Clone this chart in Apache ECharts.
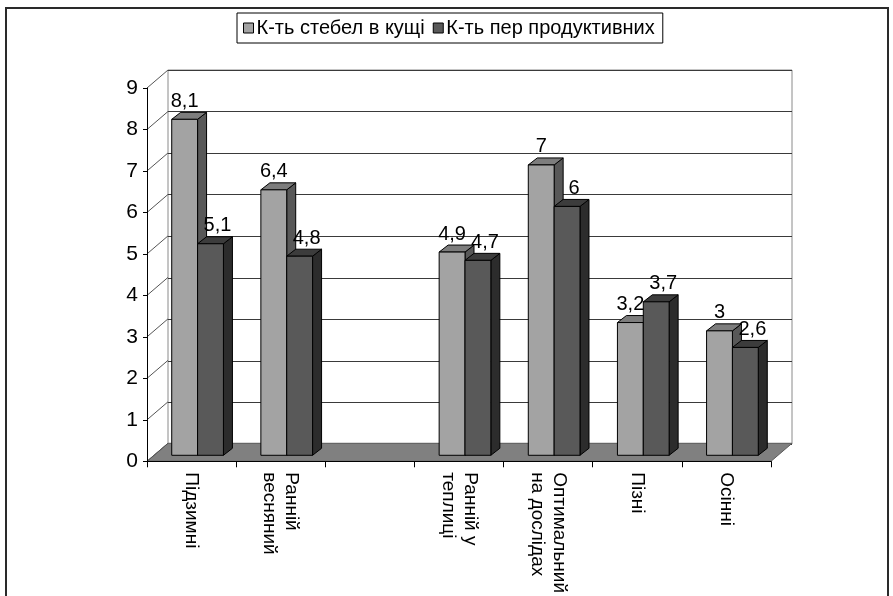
<!DOCTYPE html>
<html>
<head>
<meta charset="utf-8">
<script src="https://cdn.jsdelivr.net/npm/echarts@6/dist/echarts.min.js"></script>
<style>
  html, body { margin: 0; padding: 0; background: #fff; }
  #chart { width: 893px; height: 596px; }
</style>
</head>
<body>
<div id="chart"></div>
<script>
// Categories (the third slot is intentionally left blank)
const categories = ['Підзимні', 'Ранній\nвесняний', '', 'Ранній у\nтеплиці', 'Оптимальний\nна дослідах', 'Пізні', 'Осінні'];
const seriesNames = ['К-ть стебел в кущі', 'К-ть пер продуктивних'];
const stemsPerBush = [8.1, 6.4, null, 4.9, 7, 3.2, 3];
const productiveStems = [5.1, 4.8, null, 4.7, 6, 3.7, 2.6];
const yTicks = [0, 1, 2, 3, 4, 5, 6, 7, 8, 9];

// Pseudo-3D geometry (pixels)
const WALL_DX = 21, WALL_DY = -18;   // front plane -> back wall
const BAR_SX = 6, BAR_SY = -6;       // front plane -> bar front face
const BAR_DX = 9, BAR_DY = -7;       // bar depth
const BAR_W = 0.29;                  // bar width as a share of the category band
const LABEL_SHIFT = [0, 7];          // horizontal nudge of value labels per series

const FONT = 'Liberation Sans, Arial, sans-serif';

const faceColors = [
  { front: '#a3a3a3', top: '#7d7d7d', side: '#585858' },
  { front: '#595959', top: '#3c3c3c', side: '#2c2c2c' }
];

function toPoints(values) {
  const out = [];
  values.forEach((v, i) => { if (v != null) out.push([i, v]); });
  return out;
}

function barGeom(api, sIdx) {
  const i = api.value(0), v = api.value(1);
  const base = api.coord([i, 0]);
  const top = api.coord([i, v]);
  const band = api.size([1, 0])[0];
  const w = band * BAR_W;
  const x0 = base[0] + (sIdx === 0 ? -w : 0) + BAR_SX;
  return { x0, w, yB: base[1] + BAR_SY, yT: top[1] + BAR_SY, v };
}

function barRender(sIdx) {
  return function (params, api) {
    const g = barGeom(api, sIdx);
    const c = faceColors[sIdx];
    const stroke = { stroke: '#000', lineWidth: 1 };
    return {
      type: 'group',
      children: [
        { type: 'polygon', shape: { points: [[g.x0 + g.w, g.yT], [g.x0 + g.w + BAR_DX, g.yT + BAR_DY], [g.x0 + g.w + BAR_DX, g.yB + BAR_DY], [g.x0 + g.w, g.yB]] }, style: Object.assign({ fill: c.side }, stroke) },
        { type: 'polygon', shape: { points: [[g.x0, g.yT], [g.x0 + BAR_DX, g.yT + BAR_DY], [g.x0 + g.w + BAR_DX, g.yT + BAR_DY], [g.x0 + g.w, g.yT]] }, style: Object.assign({ fill: c.top }, stroke) },
        { type: 'rect', shape: { x: g.x0, y: g.yT, width: g.w, height: g.yB - g.yT }, style: Object.assign({ fill: c.front }, stroke) }
      ]
    };
  };
}

function labelRender(sIdx) {
  return function (params, api) {
    const g = barGeom(api, sIdx);
    return {
      type: 'text',
      style: {
        x: g.x0 + g.w / 2 + LABEL_SHIFT[sIdx],
        y: g.yT - 8,
        text: String(g.v).replace('.', ','),
        fill: '#000',
        font: '20px ' + FONT,
        textAlign: 'center',
        textVerticalAlign: 'bottom'
      }
    };
  };
}

const chart = echarts.init(document.getElementById('chart'), null, { renderer: 'canvas' });

const dataSets = [stemsPerBush, productiveStems];

const series = [
  // floor
  {
    type: 'custom', name: 'floor', xAxisIndex: 0, yAxisIndex: 0, z: 1, silent: true,
    data: [[0, 0]],
    renderItem: function (params, api) {
      const cs = params.coordSys;
      const b = cs.y + cs.height;
      return {
        type: 'polygon',
        shape: { points: [[cs.x, b], [cs.x + cs.width, b], [cs.x + cs.width + WALL_DX, b + WALL_DY], [cs.x + WALL_DX, b + WALL_DY]] },
        style: { fill: '#808080', stroke: '#5a5a5a', lineWidth: 1 }
      };
    }
  },
  // links between the front axis ticks and the back wall
  {
    type: 'custom', name: 'ticks', xAxisIndex: 0, yAxisIndex: 0, z: 2, silent: true,
    data: yTicks.map(t => [0, t]),
    renderItem: function (params, api) {
      const cs = params.coordSys;
      const y = api.coord([0, api.value(1)])[1];
      return {
        type: 'line',
        shape: { x1: cs.x, y1: y, x2: cs.x + WALL_DX, y2: y + WALL_DY },
        style: { stroke: '#555', lineWidth: 1 }
      };
    }
  }
];

dataSets.forEach((vals, s) => {
  series.push({
    type: 'custom', name: seriesNames[s], xAxisIndex: 0, yAxisIndex: 0, z: 3 + s,
    itemStyle: { color: faceColors[s].front },
    data: toPoints(vals),
    renderItem: barRender(s)
  });
});
dataSets.forEach((vals, s) => {
  series.push({
    type: 'custom', name: seriesNames[s], xAxisIndex: 0, yAxisIndex: 0, z: 10,
    itemStyle: { color: faceColors[s].front },
    data: toPoints(vals),
    renderItem: labelRender(s)
  });
});

chart.setOption({
  animation: false,
  backgroundColor: '#fff',
  textStyle: { fontFamily: FONT },
  graphic: [{
    type: 'rect', z: 100, silent: true,
    shape: { x: 6, y: 8, width: 882, height: 620 },
    style: { fill: 'none', stroke: '#2a2a2a', lineWidth: 2 }
  }],
  legend: {
    data: seriesNames,
    left: 237, top: 13,
    padding: [5, 8, 5, 6],
    itemGap: 8,
    itemWidth: 10, itemHeight: 10,
    icon: 'rect',
    itemStyle: { borderColor: '#000', borderWidth: 1 },
    borderColor: '#000', borderWidth: 1,
    textStyle: { fontSize: 20, color: '#000', fontFamily: FONT, padding: [0, 0, 0, -2] }
  },
  grid: [
    { left: 147, top: 88, width: 624, height: 374 },
    { left: 147 + WALL_DX, top: 88 + WALL_DY, width: 624, height: 374, show: true, backgroundColor: '#fff', borderColor: '#8a8a8a', borderWidth: 1 }
  ],
  xAxis: [
    {
      gridIndex: 0, type: 'category', data: categories, boundaryGap: true, z: 5,
      axisLine: { lineStyle: { color: '#000', width: 1 } },
      axisTick: { show: true, interval: 0, length: 6, lineStyle: { color: '#000' } },
      axisLabel: { interval: 0, rotate: -90, margin: 11, fontSize: 19, lineHeight: 22, color: '#000', fontFamily: FONT }
    },
    { gridIndex: 1, type: 'category', data: categories, show: false }
  ],
  yAxis: [
    {
      gridIndex: 0, type: 'value', min: 0, max: 9, interval: 1, z: 5,
      axisLine: { show: true, lineStyle: { color: '#000', width: 1 } },
      axisTick: { show: true, length: 4, lineStyle: { color: '#000' } },
      axisLabel: { margin: 9, fontSize: 21, color: '#000', fontFamily: FONT },
      splitLine: { show: false }
    },
    {
      gridIndex: 1, type: 'value', min: 0, max: 9, interval: 1,
      axisLine: { show: false }, axisTick: { show: false }, axisLabel: { show: false },
      splitLine: { show: true, lineStyle: { color: '#3a3a3a', width: 1 } }
    }
  ],
  series: series
});
</script>
</body>
</html>
